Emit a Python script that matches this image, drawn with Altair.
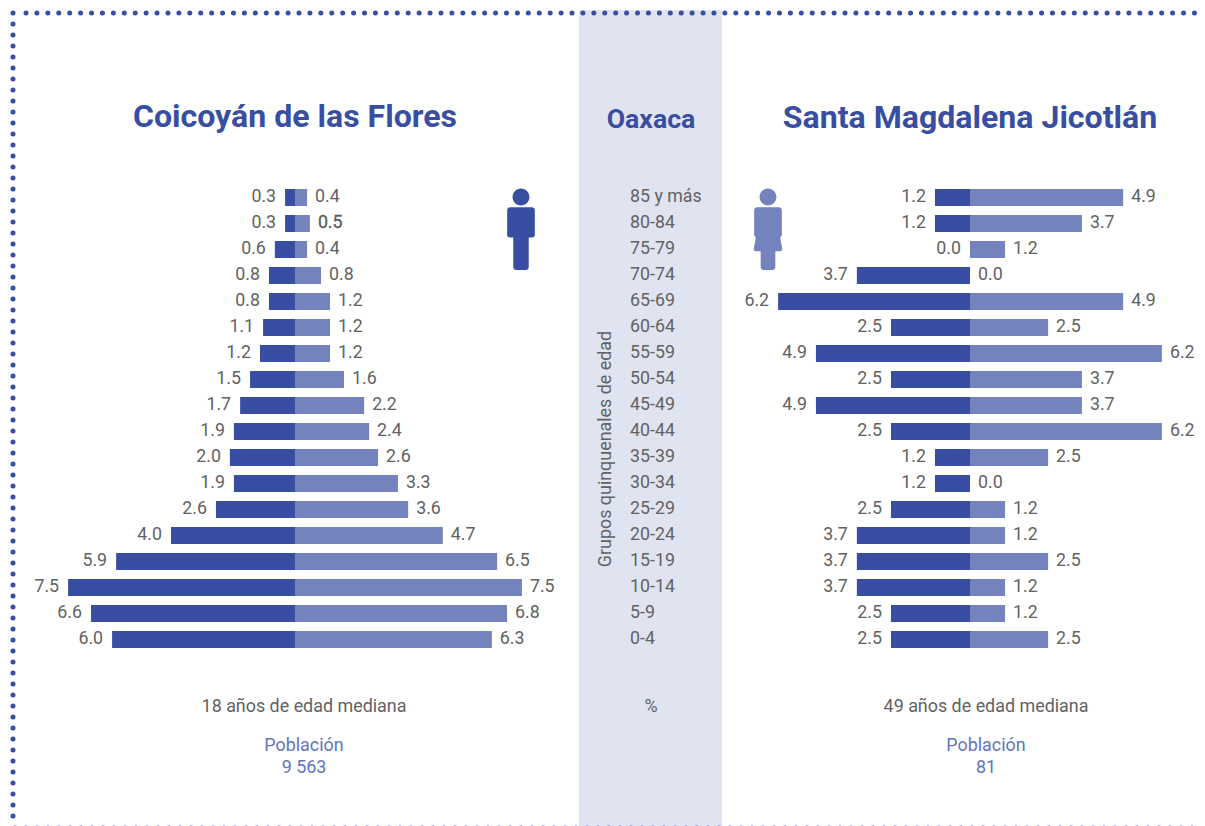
import altair as alt
import pandas as pd

ages = ["85 y más", "80-84", "75-79", "70-74", "65-69", "60-64", "55-59", "50-54", "45-49",
        "40-44", "35-39", "30-34", "25-29", "20-24", "15-19", "10-14", "5-9", "0-4"]

# Left pyramid: printed labels and bar lengths
left_m_label = ["0.3", "0.3", "0.6", "0.8", "0.8", "1.1", "1.2", "1.5", "1.7",
                "1.9", "2.0", "1.9", "2.6", "4.0", "5.9", "7.5", "6.6", "6.0"]
left_f_label = ["0.4", "0.5", "0.4", "0.8", "1.2", "1.2", "1.2", "1.6", "2.2",
                "2.4", "2.6", "3.3", "3.6", "4.7", "6.5", "7.5", "6.8", "6.3"]
left_m_bar = [0.32, 0.32, 0.65, 0.84, 0.84, 1.03, 1.13, 1.45, 1.77,
              1.97, 2.10, 1.97, 2.55, 4.00, 5.77, 7.32, 6.58, 5.90]
left_f_bar = [0.39, 0.48, 0.39, 0.84, 1.13, 1.13, 1.13, 1.58, 2.23,
              2.39, 2.68, 3.32, 3.65, 4.77, 6.52, 7.32, 6.84, 6.35]

# Right pyramid
right_m_label = ["1.2", "1.2", "0.0", "3.7", "6.2", "2.5", "4.9", "2.5", "4.9",
                 "2.5", "1.2", "1.2", "2.5", "3.7", "3.7", "3.7", "2.5", "2.5"]
right_f_label = ["4.9", "3.7", "1.2", "0.0", "4.9", "2.5", "6.2", "3.7", "3.7",
                 "6.2", "2.5", "0.0", "1.2", "1.2", "2.5", "1.2", "1.2", "2.5"]
right_m_bar = [1.13, 1.13, 0.0, 3.65, 6.19, 2.55, 4.97, 2.55, 4.97,
               2.55, 1.13, 1.13, 2.55, 3.65, 3.65, 3.65, 2.55, 2.55]
right_f_bar = [4.94, 3.61, 1.13, 0.0, 4.94, 2.52, 6.19, 3.61, 3.61,
               6.19, 2.52, 0.0, 1.13, 1.13, 2.52, 1.13, 1.13, 2.52]

DARK = "#384ea2"
LIGHT = "#7482bd"
BLUE_TXT = "#6274bd"
GREY = "#626262"
BAND = "#e0e4f1"
FONT = "Roboto"
W, H = 1189, 818

df = pd.DataFrame({
    "age": ages,
    "zero": 0,
    "lm": [-v for v in left_m_bar], "lf": left_f_bar,
    "rm": [-v for v in right_m_bar], "rf": right_f_bar,
    "lml": left_m_label, "lfl": left_f_label,
    "rml": right_m_label, "rfl": right_f_label,
})

yenc = alt.Y("age:N", axis=None, sort=ages,
             scale=alt.Scale(type="band", domain=ages, range=[176.5, 644.5],
                             paddingInner=0, paddingOuter=0))
xscale_l = alt.Scale(domain=[-8, 8], range=[39, 535], nice=False, zero=False)
xscale_r = alt.Scale(domain=[-8, 8], range=[714, 1210], nice=False, zero=False)


def bars(field, scale, color):
    return alt.Chart(df).mark_bar(size=17, color=color).encode(
        x=alt.X(f"{field}:Q", axis=None, scale=scale), x2=alt.X2("zero:Q"), y=yenc)


def labels(field, label, scale, align, dx, source=None, **kw):
    return alt.Chart(df if source is None else source).mark_text(
        align=align, baseline="middle", dx=dx, dy=-1, font=FONT,
        fontSize=17.8, color=kw.pop("color", GREY), **kw
    ).encode(x=alt.X(f"{field}:Q", axis=None, scale=scale), y=yenc, text=f"{label}:N")


def free_text(text, x, y, size=17.9, color=GREY, weight=400, angle=0, align="center"):
    return alt.Chart(pd.DataFrame({"t": [text]})).mark_text(
        font=FONT, fontSize=size, color=color, fontWeight=weight, angle=angle,
        align=align, baseline="middle"
    ).encode(text="t:N", x=alt.value(x - 8), y=alt.value(y - 8))


def dotted(x, x2, y, y2, gap):
    return alt.Chart(pd.DataFrame({"a": [0]})).mark_rule(
        color=DARK, strokeWidth=5, strokeCap="round", strokeDash=[0.01, gap]
    ).encode(x=alt.value(x - 8), x2=alt.value(x2 - 8), y=alt.value(y - 8), y2=alt.value(y2 - 8))


band = alt.Chart(pd.DataFrame({"a": [0]})).mark_rect(color=BAND).encode(
    x=alt.value(579 - 8), x2=alt.value(722 - 8), y=alt.value(10 - 8), y2=alt.value(H))

HEAD = "M-0.207 -0.793A0.207 0.207 0 1 1 0.207 -0.793A0.207 0.207 0 1 1 -0.207 -0.793Z"
MALE = (HEAD +
        "M-0.26 -0.54H0.26Q0.34 -0.54 0.34 -0.46V0.14Q0.34 0.2 0.26 0.2H0.19V0.92"
        "Q0.19 1 0.11 1H-0.11Q-0.19 1 -0.19 0.92V0.2H-0.26Q-0.34 0.2 -0.34 0.14V-0.46Q-0.34 -0.54 -0.26 -0.54Z")
FEMALE = (HEAD +
          "M-0.26 -0.54H0.26Q0.34 -0.54 0.34 -0.46V0.14L0.34 0.14Q0.3 0.2 0.3 0.22L0.35 0.48Q0.35 0.54 0.3 0.54H0.18V0.92"
          "Q0.18 1 0.1 1H-0.1Q-0.18 1 -0.18 0.92V0.54H-0.3Q-0.35 0.54 -0.35 0.48L-0.3 0.22Q-0.3 0.2 -0.34 0.14V-0.46Q-0.34 -0.54 -0.26 -0.54Z")


def icon(path, x, y, color):
    return alt.Chart(pd.DataFrame({"a": [0]})).mark_point(
        shape=path, size=81.4 ** 2, filled=True, fill=color, stroke=None, opacity=1
    ).encode(x=alt.value(x - 8), y=alt.value(y - 8))


emph = df[df["age"] == "80-84"]
rest = df[df["age"] != "80-84"]

layers = [
    band,
    dotted(26, 1215, 13, 13, 10.91),
    dotted(13, 13, 13, 818, 10.99),
    dotted(15, 1215, 828, 828, 10.99),
    bars("lm", xscale_l, DARK),
    bars("lf", xscale_l, LIGHT),
    bars("rm", xscale_r, DARK),
    bars("rf", xscale_r, LIGHT),
    labels("lm", "lml", xscale_l, "right", -9),
    labels("lf", "lfl", xscale_l, "left", 8, source=rest),
    labels("lf", "lfl", xscale_l, "left", 8, source=emph, stroke="#4a4a4a", strokeWidth=0.3),
    labels("rm", "rml", xscale_r, "right", -9),
    labels("rf", "rfl", xscale_r, "left", 8),
    alt.Chart(df).mark_text(align="left", baseline="middle", dy=-1, font=FONT, fontSize=17.8, color=GREY).encode(
        x=alt.value(630 - 8), y=yenc, text="age:N"),
    free_text("Grupos quinquenales de edad", 605.5, 449, angle=270),
    free_text("Coicoyán de las Flores", 295, 117, size=32.1, color=DARK, weight=700),
    free_text("Oaxaca", 651, 120, size=26.7, color=DARK, weight=700),
    free_text("Santa Magdalena Jicotlán", 970, 118, size=32.1, color=DARK, weight=700),
    free_text("18 años de edad mediana", 304, 707),
    free_text("%", 651, 707),
    free_text("49 años de edad mediana", 986, 707),
    free_text("Población", 304, 746, color=BLUE_TXT),
    free_text("9 563", 304, 768, color=BLUE_TXT),
    free_text("Población", 986, 746, color=BLUE_TXT),
    free_text("81", 986, 768, color=BLUE_TXT),
    icon(MALE, 521, 229.3, DARK),
    icon(FEMALE, 768, 229.3, LIGHT),
]

chart = alt.layer(*layers).resolve_scale(x="independent").properties(
    width=W, height=H, padding=0, background="white",
    autosize=alt.AutoSizeParams(type="none"),
).configure_view(stroke=None)

chart.save("out.html", embed_options={"renderer": "svg", "actions": False})
